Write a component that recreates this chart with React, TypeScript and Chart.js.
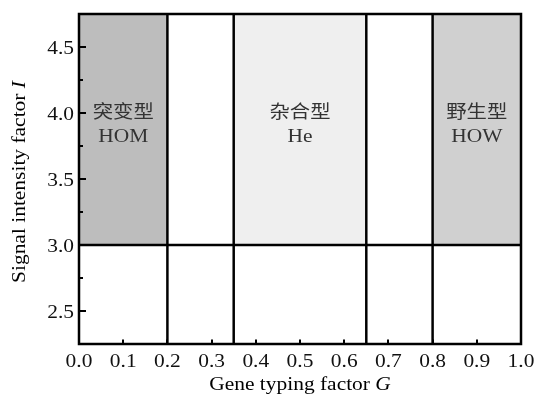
import { useEffect, useRef } from 'react';
import { Chart, registerables } from 'chart.js';

Chart.register(...registerables);

const xRange = [0, 1];
const yRange = [2.25, 4.75];
const xTickLabels = ['0.0', '0.1', '0.2', '0.3', '0.4', '0.5', '0.6', '0.7', '0.8', '0.9', '1.0'];
const yTickLabels = ['2.5', '3.0', '3.5', '4.0', '4.5'];
const regionStarts = [0.0, 0.35, 0.8];
const regionEnds = [0.2, 0.65, 1.0];
const regionColors = ['#bdbdbd', '#efefef', '#d0d0d0'];
const regionNames = ['突变型', '杂合型', '野生型'];
const regionCodes = ['HOM', 'He', 'HOW'];
const regionFloor = 3.0;
const dividerXs = [0.2, 0.35, 0.65, 0.8];
const thresholdY = 3.0;
const labelY = 4.0;
const xTitle = ['Gene typing factor ', 'G'];
const yTitle = ['Signal intensity factor ', 'I'];

const SERIF = "'Liberation Serif', 'Times New Roman', serif";
const CJK = "'Liberation Serif', 'Noto Sans CJK SC', sans-serif";
const SX = 1.1;

function drawText(ctx: CanvasRenderingContext2D, text: string, x: number, y: number, align: CanvasTextAlign, font: string, color: string, baseline: CanvasTextBaseline = 'alphabetic') {
  ctx.save();
  ctx.translate(x, y);
  ctx.scale(SX, 1);
  ctx.font = font;
  ctx.fillStyle = color;
  ctx.textAlign = align;
  ctx.textBaseline = baseline;
  ctx.fillText(text, 0, 0);
  ctx.restore();
}

function drawMixedTitle(ctx: CanvasRenderingContext2D, parts: string[], size: number) {
  ctx.font = `${size}px ${SERIF}`;
  const w1 = ctx.measureText(parts[0]).width;
  ctx.font = `italic ${size}px ${SERIF}`;
  const w2 = ctx.measureText(parts[1]).width;
  const start = -(w1 + w2) / 2;
  ctx.fillStyle = '#000';
  ctx.textAlign = 'left';
  ctx.textBaseline = 'alphabetic';
  ctx.font = `${size}px ${SERIF}`;
  ctx.fillText(parts[0], start, 0);
  ctx.font = `italic ${size}px ${SERIF}`;
  ctx.fillText(parts[1], start + w1, 0);
}

const overlayPlugin = {
  id: 'overlay',
  afterDraw(chart: any) {
    const { ctx, chartArea, scales } = chart;
    const { left, right, top, bottom } = chartArea;
    const xs = scales.x;
    const ys = scales.y;
    const eps = 1e-6;

    ctx.save();
    // frame
    ctx.strokeStyle = '#000';
    ctx.lineWidth = 2.5;
    ctx.strokeRect(left, top, right - left, bottom - top);

    // x ticks (inward)
    ctx.lineWidth = 2;
    xs.ticks.forEach((t: any) => {
      if (t.value <= xRange[0] + eps || t.value >= xRange[1] - eps) return;
      const px = Math.round(xs.getPixelForValue(t.value));
      ctx.beginPath();
      ctx.moveTo(px, bottom);
      ctx.lineTo(px, bottom - 4.5);
      ctx.stroke();
    });
    // y ticks (inward)
    ys.ticks.forEach((t: any) => {
      if (t.value <= yRange[0] + eps || t.value >= yRange[1] - eps) return;
      const major = yTickLabels.some((l) => Math.abs(parseFloat(l) - t.value) < eps);
      const py = Math.round(ys.getPixelForValue(t.value));
      ctx.beginPath();
      ctx.moveTo(left, py);
      ctx.lineTo(left + (major ? 7 : 4), py);
      ctx.stroke();
    });

    // tick labels
    const tickFont = `19.5px ${SERIF}`;
    xTickLabels.forEach((l) => {
      const px = xs.getPixelForValue(parseFloat(l));
      drawText(ctx, l, px, bottom + 23, 'center', tickFont, '#111');
    });
    yTickLabels.forEach((l) => {
      const py = ys.getPixelForValue(parseFloat(l));
      drawText(ctx, l, left - 5, py + 6.5, 'right', tickFont, '#111');
    });

    // region labels
    regionStarts.forEach((s, i) => {
      const cx = xs.getPixelForValue((s + regionEnds[i]) / 2);
      const cy = ys.getPixelForValue(labelY);
      drawText(ctx, regionNames[i], cx, cy, 'center', `18.5px ${CJK}`, '#333', 'middle');
      drawText(ctx, regionCodes[i], cx, cy + 29, 'center', `19.5px ${SERIF}`, '#333');
    });

    // axis titles
    ctx.save();
    ctx.translate((left + right) / 2, bottom + 46);
    ctx.scale(SX, 1);
    drawMixedTitle(ctx, xTitle, 19.5);
    ctx.restore();

    ctx.save();
    ctx.translate(25, (top + bottom) / 2 + 3);
    ctx.rotate(-Math.PI / 2);
    ctx.scale(SX, 1);
    drawMixedTitle(ctx, yTitle, 19.5);
    ctx.restore();

    ctx.restore();
  },
};

export default function App() {
  const canvasRef = useRef<HTMLCanvasElement | null>(null);

  useEffect(() => {
    const canvas = canvasRef.current;
    if (!canvas) return;

    const regionSets = regionStarts.map((s, i) => ({
      label: regionNames[i],
      data: [
        { x: s, y: yRange[1] },
        { x: regionEnds[i], y: yRange[1] },
      ],
      fill: { value: regionFloor },
      backgroundColor: regionColors[i],
      borderWidth: 0,
      borderColor: 'rgba(0,0,0,0)',
      pointRadius: 0,
      order: 2,
    }));
    const dividerSets = dividerXs.map((x) => ({
      label: 'divider',
      data: [
        { x, y: yRange[0] },
        { x, y: yRange[1] },
      ],
      fill: false,
      borderColor: '#000',
      borderWidth: 2.5,
      pointRadius: 0,
      order: 1,
    }));
    const thresholdSet = {
      label: 'threshold',
      data: [
        { x: xRange[0], y: thresholdY },
        { x: xRange[1], y: thresholdY },
      ],
      fill: false,
      borderColor: '#000',
      borderWidth: 2.5,
      pointRadius: 0,
      order: 1,
    };

    const chart = new Chart(canvas, {
      type: 'line',
      data: { datasets: [...dividerSets, thresholdSet, ...regionSets] as any },
      options: {
        responsive: false,
        animation: false,
        devicePixelRatio: 1,
        layout: { padding: { left: 79, right: 15, top: 14, bottom: 51 } },
        plugins: { legend: { display: false }, tooltip: { enabled: false } },
        scales: {
          x: {
            type: 'linear',
            min: xRange[0],
            max: xRange[1],
            display: false,
            ticks: { stepSize: 0.05 },
          },
          y: {
            type: 'linear',
            min: yRange[0],
            max: yRange[1],
            display: false,
            ticks: { stepSize: 0.25 },
          },
        },
      } as any,
      plugins: [overlayPlugin],
    });

    return () => chart.destroy();
  }, []);

  return (
    <div style={{ position: 'absolute', left: 0, top: 0, width: 536, height: 395, background: '#fff' }}>
      <canvas ref={canvasRef} width={536} height={395} style={{ display: 'block' }} />
    </div>
  );
}
